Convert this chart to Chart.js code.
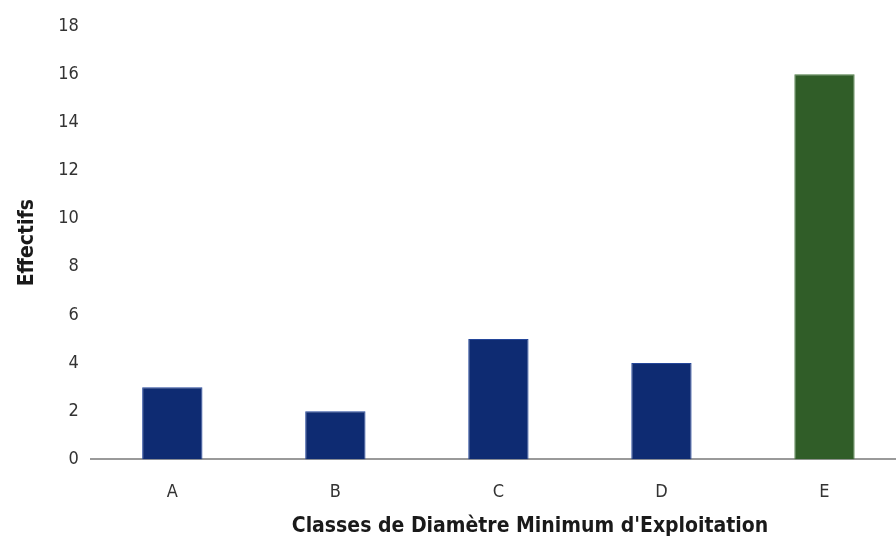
<!DOCTYPE html>
<html>
<head>
<meta charset="utf-8">
<script src="https://cdn.jsdelivr.net/npm/chart.js@4"></script>
<style>
  html, body { margin: 0; padding: 0; background: #fff; overflow: hidden; }
  #wrap { width: 910px; height: 545px; }
</style>
</head>
<body>
<div id="wrap"><canvas id="c"></canvas></div>
<script>
const categories = ['A', 'B', 'C', 'D', 'E'];
const effectifs = [3, 2, 5, 4, 16];
const yTicks = [0, 2, 4, 6, 8, 10, 12, 14, 16, 18];
const barColors = ['#0e2b72', '#0e2b72', '#0e2b72', '#0e2b72', '#305d28'];
const edgeColors = ['#24469a', '#24469a', '#24469a', '#24469a', '#4a7a40'];
const xTitle = "Classes de Diamètre Minimum d'Exploitation";
const yTitle = 'Effectifs';

const FONT = "'Liberation Sans Narrow', 'Arial Narrow', 'DejaVu Sans Condensed', sans-serif";

// x-axis title, drawn under the category labels
const xTitlePlugin = {
  id: 'xTitle',
  afterDraw(chart) {
    const ctx = chart.ctx;
    ctx.save();
    ctx.font = "bold 21px " + FONT;
    ctx.fillStyle = '#1a1a1a';
    ctx.textAlign = 'center';
    ctx.textBaseline = 'middle';
    ctx.fillText(xTitle, 530, 527);
    ctx.restore();
  }
};

new Chart(document.getElementById('c'), {
  type: 'bar',
  data: {
    labels: categories,
    datasets: [{
      data: effectifs,
      backgroundColor: barColors,
      borderColor: edgeColors,
      borderWidth: 1,
      barPercentage: 0.74,
      categoryPercentage: 0.5
    }]
  },
  options: {
    responsive: true,
    maintainAspectRatio: false,
    animation: false,
    layout: { padding: { top: 26, right: 4, bottom: 20, left: 5 } },
    plugins: { legend: { display: false }, tooltip: { enabled: false } },
    scales: {
      x: {
        grid: { display: false, drawTicks: false },
        border: { display: true, color: '#9a9a9a', width: 2 },
        ticks: {
          color: '#333',
          font: { family: FONT, size: 18 },
          padding: 22
        }
      },
      y: {
        min: 0,
        max: 18,
        afterBuildTicks(scale) { scale.ticks = yTicks.map(v => ({ value: v })); },
        grid: { display: false, drawTicks: false },
        border: { display: false },
        ticks: {
          color: '#333',
          font: { family: FONT, size: 18 },
          padding: 12
        },
        title: {
          display: true,
          text: yTitle,
          color: '#1a1a1a',
          font: { family: FONT, size: 21, weight: 'bold' },
          padding: { top: 10, bottom: 6 }
        }
      }
    }
  },
  plugins: [xTitlePlugin]
});
</script>
</body>
</html>
